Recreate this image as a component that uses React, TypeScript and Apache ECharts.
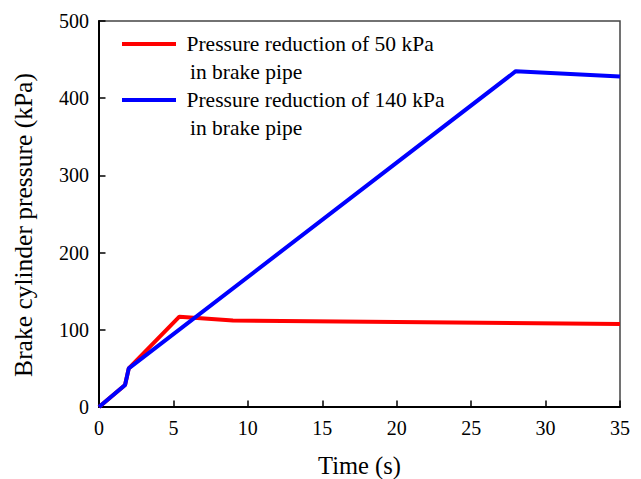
import React, { useEffect, useRef } from "react";
import * as echarts from "echarts";

const redTime = [0, 1.75, 2.0, 5.4, 9.0, 35];
const redPressure = [0, 28.5, 50, 117, 112, 107.5];
const blueTime = [0, 1.75, 2.0, 28.0, 35];
const bluePressure = [0, 28.5, 50, 435, 428];
const legendLine1 = ["Pressure reduction of 50 kPa", "Pressure reduction of 140 kPa"];
const legendLine2 = ["in brake pipe", "in brake pipe"];
const seriesColors = ["#ff0000", "#0000ff"];
const xName = "Time (s)";
const yName = "Brake cylinder pressure (kPa)";

const FONT = "'Liberation Serif', 'Times New Roman', serif";

export default function App() {
  const ref = useRef<HTMLDivElement>(null);
  useEffect(() => {
    const chart = echarts.init(ref.current!, null, { renderer: "svg" });
    const toPairs = (xs: number[], ys: number[]) => xs.map((x, i) => [x, ys[i]]);
    const legendGraphics: any[] = [];
    [44, 100].forEach((y, i) => {
      legendGraphics.push({ type: "line", shape: { x1: 122, y1: y, x2: 176, y2: y }, style: { stroke: seriesColors[i], lineWidth: 4 } });
      legendGraphics.push({ type: "text", x: 186.5, y: y + 0.4, style: { text: legendLine1[i], font: `21.5px ${FONT}`, fill: "#000", verticalAlign: "middle", align: "left" } });
      legendGraphics.push({ type: "text", x: 190, y: y + 27.7, style: { text: legendLine2[i], font: `21.5px ${FONT}`, fill: "#000", verticalAlign: "middle", align: "left" } });
    });
    chart.setOption({
      animation: false,
      grid: {
        left: 99, right: 21, top: 21, bottom: 72, containLabel: false, outerBoundsMode: "none",
        show: true, borderColor: "#444", borderWidth: 1.5,
      },
      xAxis: {
        type: "value", min: 0, max: 35, interval: 5,
        name: xName, nameLocation: "middle", nameGap: 46,
        nameTextStyle: { fontFamily: FONT, fontSize: 24.5, color: "#000" },
        axisLine: { show: true, lineStyle: { color: "#000", width: 2 } },
        axisTick: { show: true, inside: true, length: 6.5, lineStyle: { color: "#000", width: 1.5 } },
        axisLabel: { fontFamily: FONT, fontSize: 20, color: "#000", margin: 11 },
        splitLine: { show: false },
      },
      yAxis: {
        type: "value", min: 0, max: 500, interval: 100,
        name: yName, nameLocation: "middle", nameGap: 63,
        nameTextStyle: { fontFamily: FONT, fontSize: 25.5, color: "#000", padding: [0, 22, 0, 0] },
        axisLine: { show: true, lineStyle: { color: "#000", width: 2 } },
        axisTick: { show: true, inside: true, length: 6.5, lineStyle: { color: "#000", width: 1.5 } },
        axisLabel: { fontFamily: FONT, fontSize: 20, color: "#000", margin: 10 },
        splitLine: { show: false },
      },
      series: [
        {
          type: "line", name: legendLine1[0], data: toPairs(redTime, redPressure),
          showSymbol: false, lineStyle: { color: seriesColors[0], width: 4 }, itemStyle: { color: seriesColors[0] },
        },
        {
          type: "line", name: legendLine1[1], data: toPairs(blueTime, bluePressure),
          showSymbol: false, lineStyle: { color: seriesColors[1], width: 4 }, itemStyle: { color: seriesColors[1] },
        },
      ],
      graphic: legendGraphics,
    });
    return () => chart.dispose();
  }, []);
  return <div ref={ref} style={{ width: 641, height: 479, position: "absolute", left: 0, top: 0 }} />;
}
